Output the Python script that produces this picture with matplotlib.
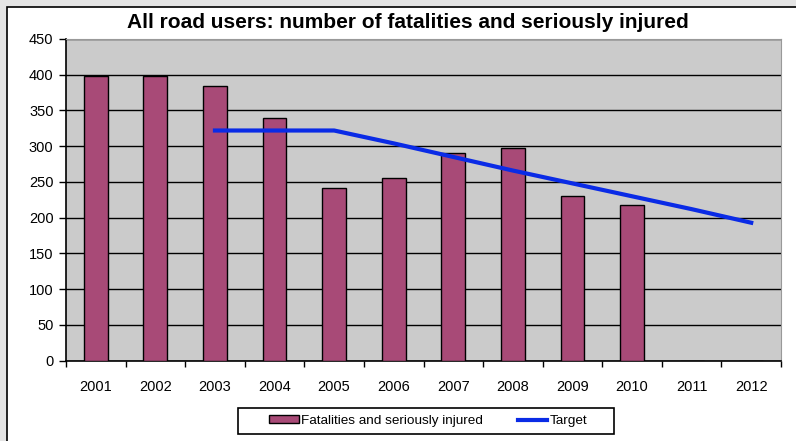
import numpy as np
import matplotlib.pyplot as plt
from matplotlib.patches import Rectangle

plt.rcParams['font.family'] = ['Liberation Sans', 'DejaVu Sans']

# datos
years = ['2001', '2002', '2003', '2004', '2005', '2006',
         '2007', '2008', '2009', '2010', '2011', '2012']
fsi = [398, 398, 384, 340, 242, 255, 291, 297, 230, 218, None, None]
target_years = ['2003', '2004', '2005', '2006', '2007', '2008',
                '2009', '2010', '2011', '2012']
target = [322, 322, 322, 304, 285, 266, 248, 230, 212, 193]

bar_color = '#A84A77'
line_color = '#0A2BE6'

fig = plt.figure(figsize=(7.96, 4.41), dpi=100)
fig.patch.set_facecolor('#E4E4E4')
# marco blanco del grafico
marco = Rectangle((7 / 796, -0.1), 1.1, 1 - 7 / 441 + 0.1,
                  transform=fig.transFigure, facecolor='white',
                  edgecolor='black', linewidth=1.2, zorder=-10)
fig.add_artist(marco)

ax = fig.add_axes([66 / 796, 1 - 360.7 / 441, 715 / 796, 321.7 / 441])
ax.set_facecolor('#CBCBCB')

x = np.arange(len(years))
vals = [v if v is not None else 0 for v in fsi]
bars = ax.bar(x, vals, width=0.4, color=bar_color, edgecolor='black', linewidth=1,
              zorder=3, label='Fatalities and seriously injured')

tx = [years.index(y) for y in target_years]
linea, = ax.plot(tx, target, color=line_color, linewidth=3, zorder=4, label='Target')

ax.set_ylim(0, 450)
ax.set_yticks(range(0, 451, 50))
ax.set_xlim(-0.5, len(years) - 0.5)
ax.set_xticks(x)
ax.set_xticklabels(years)
ax.set_xticks(np.arange(-0.5, len(years)), minor=True)
ax.tick_params(axis='x', which='major', length=0, pad=14, labelsize=10.5)
ax.tick_params(axis='x', which='minor', length=4, width=1, direction='out')
ax.tick_params(axis='y', length=5, width=1, direction='out', labelsize=10.5, pad=4)

ax.yaxis.grid(True, color='black', linewidth=1, zorder=1)
ax.set_axisbelow(True)
for s in ['top', 'right']:
    ax.spines[s].set_color('#999999')
for s in ['left', 'bottom']:
    ax.spines[s].set_color('black')
    ax.spines[s].set_linewidth(1.2)

fig.text(408 / 796, 1 - 22 / 441, 'All road users: number of fatalities and seriously injured',
         ha='center', va='center', fontsize=15, fontweight='bold')

# caja de la leyenda
caja = Rectangle((238 / 796, 1 - 434 / 441), 376 / 796, 26 / 441,
                 transform=fig.transFigure, facecolor='white',
                 edgecolor='black', linewidth=1.2, zorder=5)
fig.add_artist(caja)
leg = fig.legend([bars, linea], ['Fatalities and seriously injured', 'Target'],
                 loc='center', bbox_to_anchor=(428 / 796, 1 - 421 / 441), ncol=2,
                 frameon=False, fontsize=9.7, handlelength=2.2,
                 handleheight=0.55, handletextpad=0.15, columnspacing=2.6, borderpad=0)
leg.set_zorder(6)

fig.savefig('out.png', dpi=100, facecolor=fig.get_facecolor())
